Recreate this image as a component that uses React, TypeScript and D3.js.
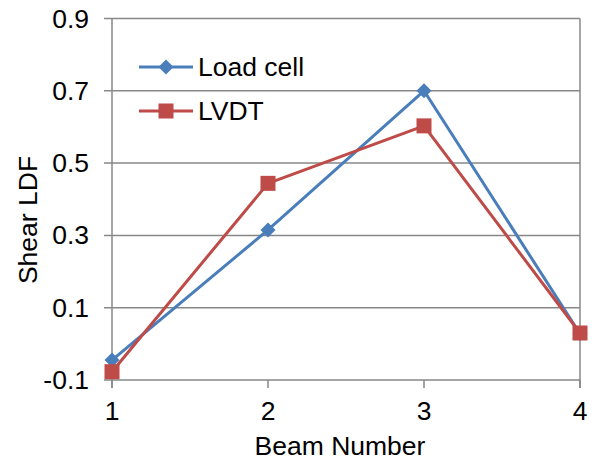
import React from "react";
import * as d3 from "d3";

const beams = [1, 2, 3, 4];
const loadCell = [-0.045, 0.315, 0.7, 0.028];
const lvdt = [-0.077, 0.444, 0.603, 0.03];
const yTicks = [-0.1, 0.1, 0.3, 0.5, 0.7, 0.9];
const seriesNames = ["Load cell", "LVDT"];
const colors = ["#4A7EBB", "#BE4B48"];

const W = 601, H = 466;
const x = d3.scaleLinear().domain([1, 4]).range([112, 580]);
const y = d3.scaleLinear().domain([-0.1, 0.9]).range([380, 18.5]);
const font = "Liberation Sans, Arial, sans-serif";
const grid = "#878787";
const fmt = (t: number) => t.toFixed(1);

export default function App() {
  const line = d3.line<number>().x((_, i) => x(beams[i])).y((d) => y(d));
  const diamond = (cx: number, cy: number, r = 7.5) =>
    `M${cx},${cy - r}L${cx + r},${cy}L${cx},${cy + r}L${cx - r},${cy}Z`;
  const sq = 15;
  const fs = 26.5;
  return (
    <svg width={W} height={H} style={{ position: "absolute", left: 0, top: 0, background: "#fff" }}>
      {yTicks.map((t) => (
        <g key={t}>
          <line x1={104} x2={580} y1={y(t)} y2={y(t)} stroke={grid} strokeWidth={1.5} />
          <text x={89} y={y(t) + 9} textAnchor="end" fontSize={fs} fontFamily={font} fill="#000">
            {fmt(t)}
          </text>
        </g>
      ))}
      <line x1={112} x2={112} y1={y(0.9)} y2={388} stroke={grid} strokeWidth={1.5} />
      <line x1={580} x2={580} y1={y(0.9)} y2={388} stroke={grid} strokeWidth={1.5} />
      {beams.map((b) => (
        <g key={b}>
          <line x1={x(b)} x2={x(b)} y1={380} y2={388} stroke={grid} strokeWidth={1.5} />
          <text x={x(b)} y={420} textAnchor="middle" fontSize={fs} fontFamily={font} fill="#000">
            {b}
          </text>
        </g>
      ))}
      <text x={340} y={455} textAnchor="middle" fontSize={fs} fontFamily={font} fill="#000">
        Beam Number
      </text>
      <text
        transform={`translate(37,220) rotate(-90)`}
        textAnchor="middle"
        fontSize={fs}
        fontFamily={font}
        fill="#000"
      >
        Shear LDF
      </text>
      <path d={line(loadCell) || ""} fill="none" stroke={colors[0]} strokeWidth={3} strokeLinejoin="round" />
      <path d={line(lvdt) || ""} fill="none" stroke={colors[1]} strokeWidth={3} strokeLinejoin="round" />
      {loadCell.map((v, i) => (
        <path key={"d" + i} d={diamond(x(beams[i]), y(v))} fill={colors[0]} />
      ))}
      {lvdt.map((v, i) => (
        <rect key={"s" + i} x={x(beams[i]) - sq / 2} y={y(v) - sq / 2} width={sq} height={sq} fill={colors[1]} />
      ))}
      {/* legend */}
      <line x1={139} x2={193} y1={67} y2={67} stroke={colors[0]} strokeWidth={3} />
      <path d={diamond(166, 67)} fill={colors[0]} />
      <text x={198} y={76} fontSize={fs} fontFamily={font} fill="#000">{seriesNames[0]}</text>
      <line x1={139} x2={193} y1={111} y2={111} stroke={colors[1]} strokeWidth={3} />
      <rect x={166 - sq / 2} y={111 - sq / 2} width={sq} height={sq} fill={colors[1]} />
      <text x={198} y={120} fontSize={fs} fontFamily={font} fill="#000">{seriesNames[1]}</text>
    </svg>
  );
}
